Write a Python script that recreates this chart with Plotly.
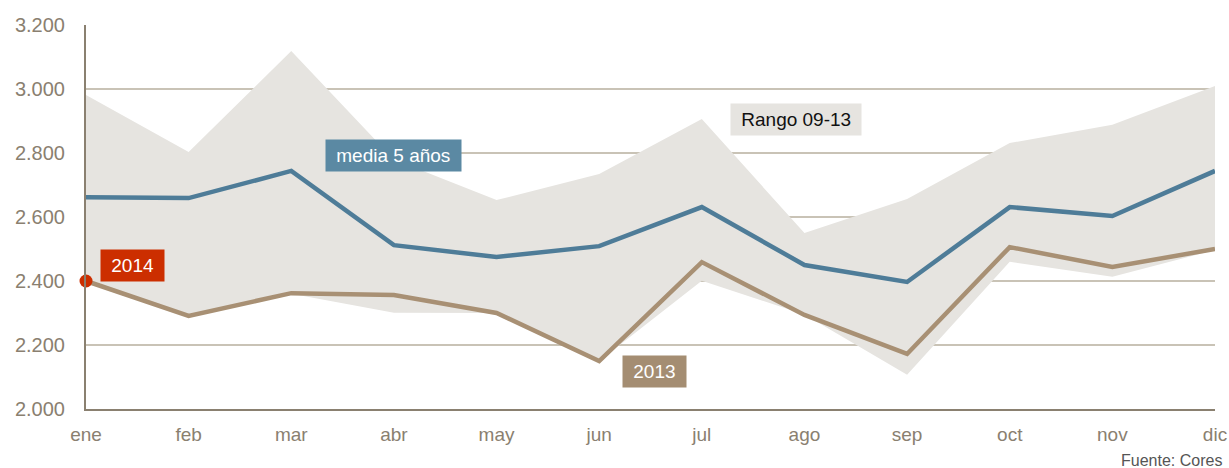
import plotly.graph_objects as go

months = ["ene", "feb", "mar", "abr", "may", "jun", "jul", "ago", "sep", "oct", "nov", "dic"]
media5 = [2662, 2659, 2744, 2512, 2475, 2509, 2631, 2450, 2397, 2631, 2603, 2744]
y2013 = [2400, 2291, 2362, 2356, 2300, 2150, 2459, 2294, 2172, 2506, 2444, 2500]
rango_max = [2981, 2803, 3119, 2780, 2653, 2734, 2906, 2550, 2656, 2831, 2888, 3009]
rango_min = [2400, 2291, 2360, 2301, 2300, 2150, 2401, 2295, 2107, 2460, 2413, 2497]
y2014_month = ["ene"]
y2014 = [2400]
yticks = [2000, 2200, 2400, 2600, 2800, 3000, 3200]
ytick_text = ["2.000", "2.200", "2.400", "2.600", "2.800", "3.000", "3.200"]

FONT = "Liberation Sans, Arial, sans-serif"
TICK_COLOR = "#8a8070"

fig = go.Figure()
fig.add_trace(go.Scatter(x=months, y=rango_min, mode="lines", line=dict(width=0),
                         hoverinfo="skip", showlegend=False))
fig.add_trace(go.Scatter(x=months, y=rango_max, mode="lines", line=dict(width=0),
                         fill="tonexty", fillcolor="#e6e4e0", showlegend=False))
fig.add_trace(go.Scatter(x=months, y=media5, mode="lines",
                         line=dict(color="#4e7c98", width=4.5), showlegend=False))
fig.add_trace(go.Scatter(x=months, y=y2013, mode="lines",
                         line=dict(color="#a89074", width=4.5), showlegend=False))
fig.add_trace(go.Scatter(x=y2014_month, y=y2014, mode="markers",
                         marker=dict(color="#cc2e00", size=13), showlegend=False, cliponaxis=False))

def label(x, y, text, bg, fg="white"):
    fig.add_annotation(x=x, y=y, xref="x", yref="y", text="&nbsp;" + text + "&nbsp;",
                       showarrow=False, bgcolor=bg, font=dict(family=FONT, size=19, color=fg),
                       borderpad=5)

label(3.0, 2791, "media 5 años", "#5b89a3")
label(0.45, 2447, "2014", "#cc2e00")
label(5.54, 2116, "2013", "#a48d72")
label(6.92, 2906, "Rango 09-13", "#e6e4e0", "#111111")

fig.add_annotation(x=1.0, y=0, xref="paper", yref="paper", yshift=-51, xshift=9, xanchor="right",
                   yanchor="middle", text="Fuente: Cores", showarrow=False,
                   font=dict(family=FONT, size=16, color="#555555"))

fig.update_layout(
    width=1229, height=468,
    margin=dict(l=86, r=14, t=25, b=59),
    paper_bgcolor="white", plot_bgcolor="white",
    font=dict(family=FONT, size=19, color=TICK_COLOR),
)
fig.update_xaxes(type="category", range=[0, 11], showgrid=False, showline=True, automargin=False,
                 linecolor="#8a8070", linewidth=2, ticks="", tickfont=dict(size=19, color=TICK_COLOR),
                 ticklabelstandoff=7)
fig.update_yaxes(range=[2000, 3200], tickvals=yticks, ticktext=ytick_text, automargin=False,
                 showgrid=True, gridcolor="#c9c3b6", gridwidth=2, showline=True,
                 linecolor="#8a8070", linewidth=2, ticks="", zeroline=False,
                 tickfont=dict(size=20, color=TICK_COLOR), ticklabelstandoff=15)

fig.write_html("out.html", config={"displayModeBar": False},
               post_script="document.body.style.margin='0';document.body.style.overflow='hidden';")
